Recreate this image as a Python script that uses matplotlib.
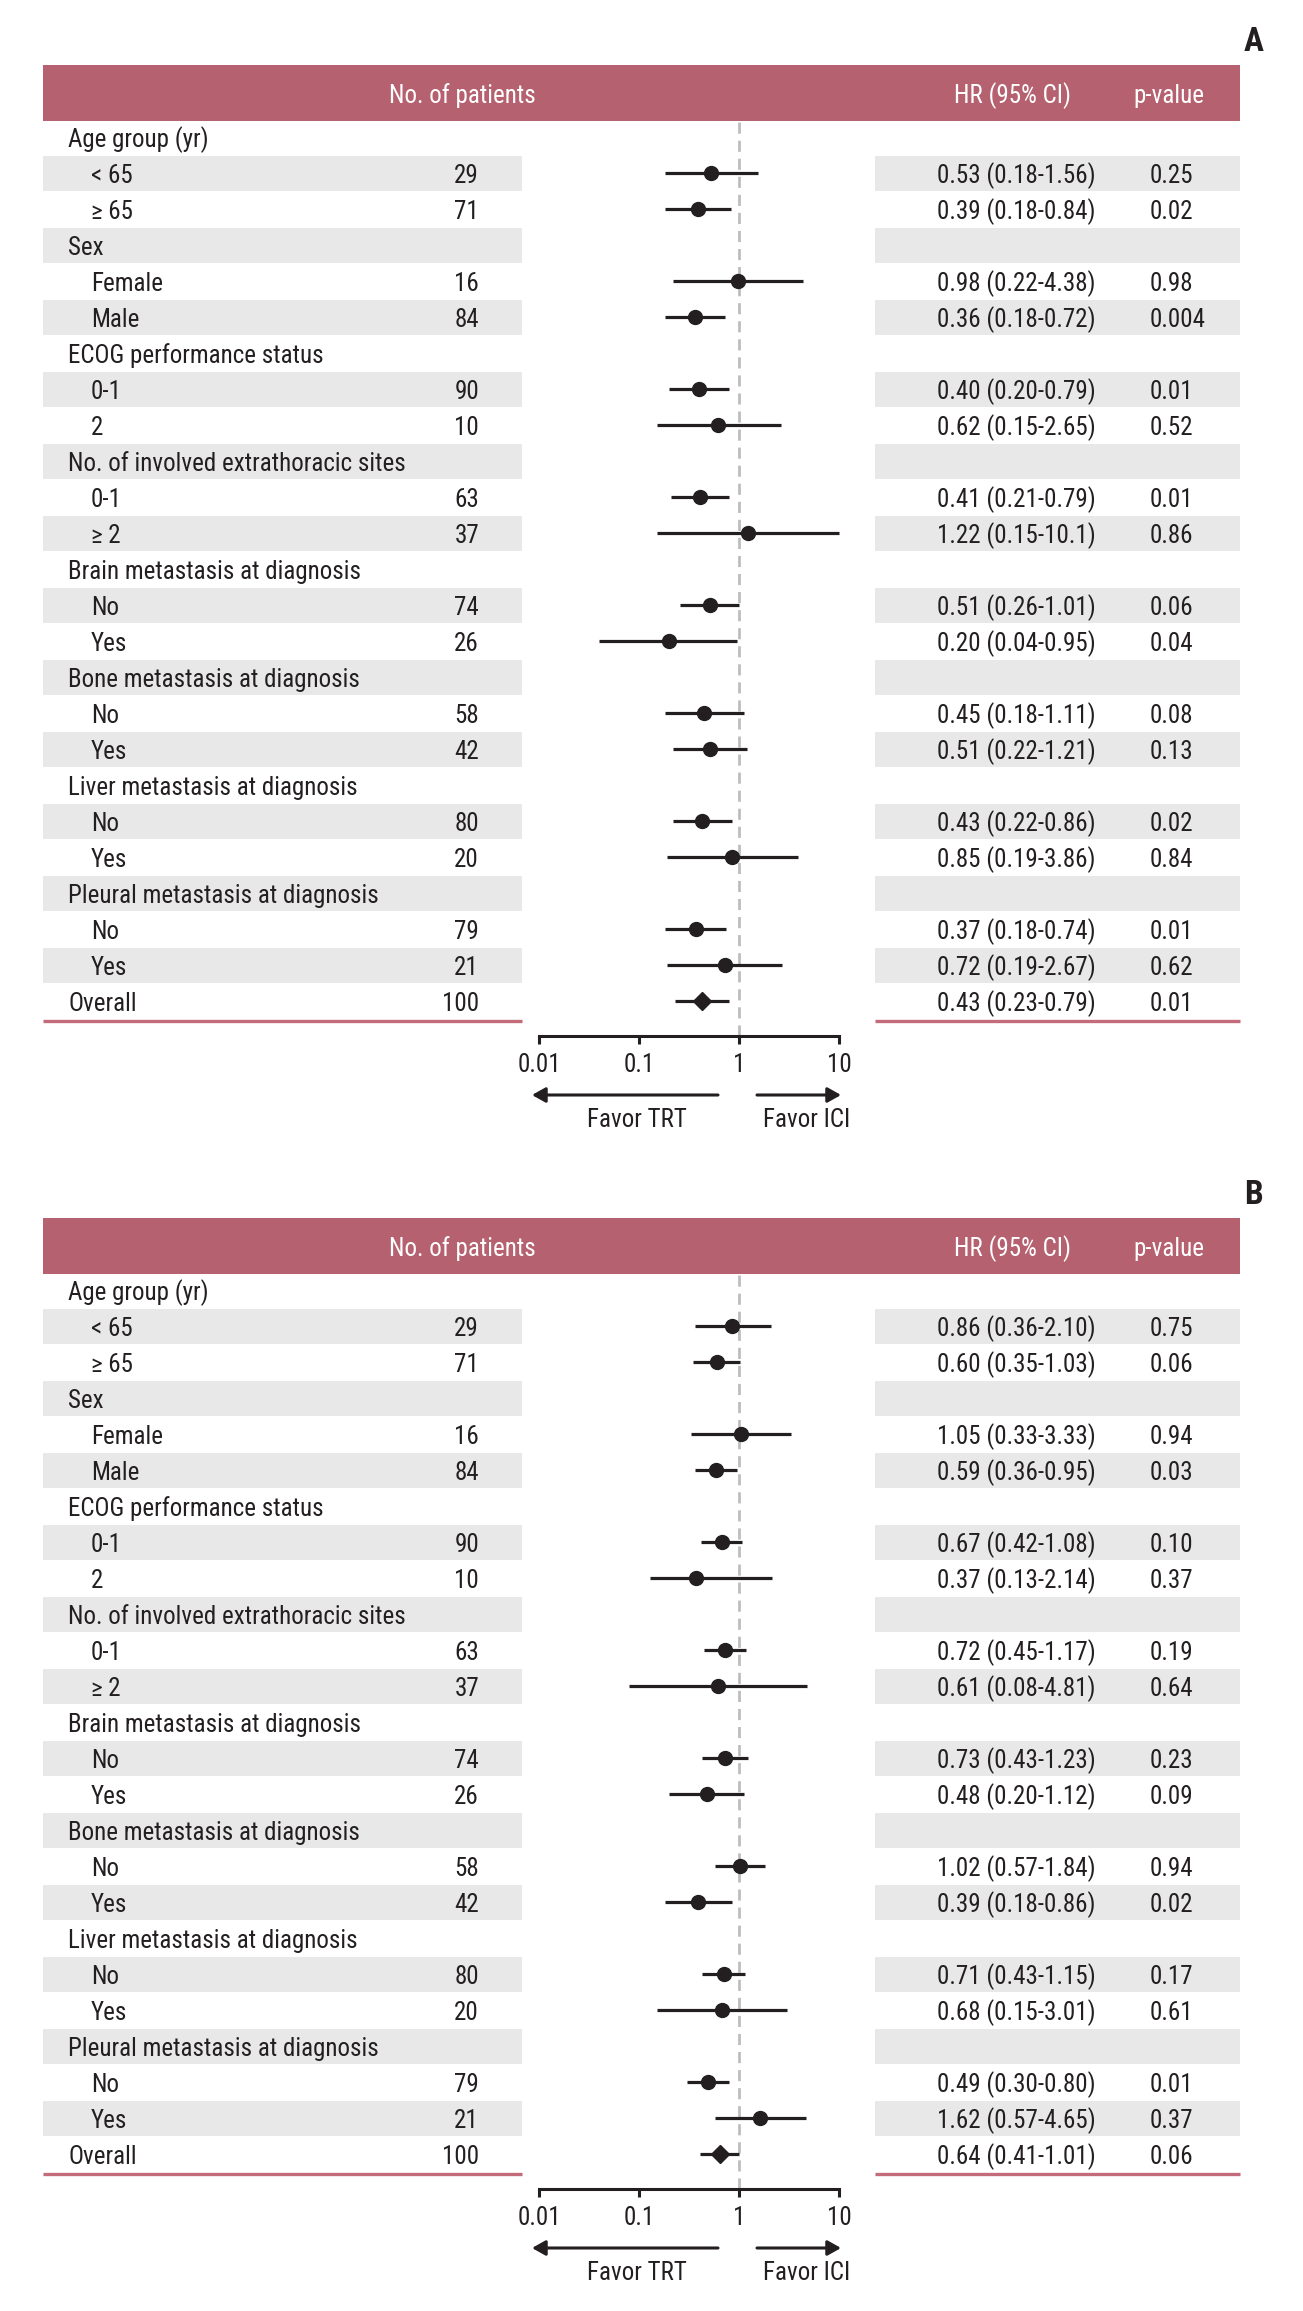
import matplotlib
matplotlib.use('Agg')
import matplotlib.pyplot as plt
from matplotlib.patches import Rectangle

# ---------------- data ----------------
row_labels = ["Age group (yr)", "< 65", "≥ 65", "Sex", "Female", "Male",
              "ECOG performance status", "0-1", "2",
              "No. of involved extrathoracic sites", "0-1", "≥ 2",
              "Brain metastasis at diagnosis", "No", "Yes",
              "Bone metastasis at diagnosis", "No", "Yes",
              "Liver metastasis at diagnosis", "No", "Yes",
              "Pleural metastasis at diagnosis", "No", "Yes", "Overall"]
row_indent = [0, 1, 1, 0, 1, 1, 0, 1, 1, 0, 1, 1, 0, 1, 1, 0, 1, 1, 0, 1, 1, 0, 1, 1, 0]
n_patients = [None, 29, 71, None, 16, 84, None, 90, 10, None, 63, 37, None, 74, 26,
              None, 58, 42, None, 80, 20, None, 79, 21, 100]

hr_a = [None, 0.53, 0.39, None, 0.98, 0.36, None, 0.40, 0.62, None, 0.41, 1.22, None, 0.51, 0.20,
        None, 0.45, 0.51, None, 0.43, 0.85, None, 0.37, 0.72, 0.43]
lo_a = [None, 0.18, 0.18, None, 0.22, 0.18, None, 0.20, 0.15, None, 0.21, 0.15, None, 0.26, 0.04,
        None, 0.18, 0.22, None, 0.22, 0.19, None, 0.18, 0.19, 0.23]
hi_a = [None, 1.56, 0.84, None, 4.38, 0.72, None, 0.79, 2.65, None, 0.79, 10.1, None, 1.01, 0.95,
        None, 1.11, 1.21, None, 0.86, 3.86, None, 0.74, 2.67, 0.79]
p_a = [None, "0.25", "0.02", None, "0.98", "0.004", None, "0.01", "0.52", None, "0.01", "0.86",
       None, "0.06", "0.04", None, "0.08", "0.13", None, "0.02", "0.84", None, "0.01", "0.62", "0.01"]

hr_b = [None, 0.86, 0.60, None, 1.05, 0.59, None, 0.67, 0.37, None, 0.72, 0.61, None, 0.73, 0.48,
        None, 1.02, 0.39, None, 0.71, 0.68, None, 0.49, 1.62, 0.64]
lo_b = [None, 0.36, 0.35, None, 0.33, 0.36, None, 0.42, 0.13, None, 0.45, 0.08, None, 0.43, 0.20,
        None, 0.57, 0.18, None, 0.43, 0.15, None, 0.30, 0.57, 0.41]
hi_b = [None, 2.10, 1.03, None, 3.33, 0.95, None, 1.08, 2.14, None, 1.17, 4.81, None, 1.23, 1.12,
        None, 1.84, 0.86, None, 1.15, 3.01, None, 0.80, 4.65, 1.01]
p_b = [None, "0.75", "0.06", None, "0.94", "0.03", None, "0.10", "0.37", None, "0.19", "0.64",
       None, "0.23", "0.09", None, "0.94", "0.02", None, "0.17", "0.61", None, "0.01", "0.37", "0.06"]

x_ticks = [0.01, 0.1, 1, 10]
x_ticklabels = ["0.01", "0.1", "1", "10"]

# ---------------- style ----------------
W, H, DPI = 1303, 2311, 100
FONT = ['Roboto Condensed', 'DejaVu Sans']
FS = 18
TXT = '#231f20'
HEAD = '#b5616f'
STRIPE = '#e8e8e9'
PINK = '#c46b7b'
DASH = '#bdbdbd'
TY = 3  # small downward nudge of text relative to row centre

plt.rcParams['font.family'] = FONT

fig = plt.figure(figsize=(W / DPI, H / DPI), dpi=DPI)
bg = fig.add_axes([0, 0, 1, 1])
bg.set_xlim(0, W)
bg.set_ylim(H, 0)
bg.axis('off')

ROW0, DY = 137, 36.0


def fmt(v):
    return f"{v:.1f}" if v >= 10 else f"{v:.2f}"


def draw_panel(letter, off, hr, lo, hi, pv):
    # panel letter
    bg.text(1254, off + 42, letter, fontsize=24, fontweight='bold', color=TXT,
            ha='center', va='center')
    # header
    bg.add_patch(Rectangle((43, off + 65), 1197, 56, color=HEAD, lw=0))
    hy = off + 93 + TY
    bg.text(462, hy, "No. of patients", color='white', fontsize=FS, ha='center', va='center')
    bg.text(1012, hy, "HR (95% CI)", color='white', fontsize=FS, ha='center', va='center')
    bg.text(1169, hy, "p-value", color='white', fontsize=FS, ha='center', va='center')
    nrow = len(row_labels)
    for i in range(nrow):
        y = off + ROW0 + DY * i
        if i % 2 == 1:
            bg.add_patch(Rectangle((43, y - 17.5), 479, 35, color=STRIPE, lw=0))
            bg.add_patch(Rectangle((875, y - 17.5), 365, 35, color=STRIPE, lw=0))
        x = 91 if row_indent[i] else 68
        bg.text(x, y + TY, row_labels[i], fontsize=FS, color=TXT, ha='left', va='center')
        if n_patients[i] is not None:
            bg.text(479, y + TY, str(n_patients[i]), fontsize=FS, color=TXT, ha='right', va='center')
        if hr[i] is not None:
            bg.text(937, y + TY, f"{hr[i]:.2f} ({fmt(lo[i])}-{fmt(hi[i])})", fontsize=FS,
                    color=TXT, ha='left', va='center')
            bg.text(1150, y + TY, pv[i], fontsize=FS, color=TXT, ha='left', va='center')
    # bottom pink lines
    ly = off + 1021
    bg.plot([43, 522], [ly, ly], color=PINK, lw=2.4, solid_capstyle='butt')
    bg.plot([875, 1240], [ly, ly], color=PINK, lw=2.4, solid_capstyle='butt')

    # forest axes
    top, bot = off + 121, off + 1036
    ax = fig.add_axes([539 / W, 1 - bot / H, 300 / W, (bot - top) / H])
    ax.patch.set_alpha(0)
    ax.set_xscale('log')
    ax.set_xlim(0.01, 10)
    ax.set_ylim((bot - off - ROW0) / DY, (top - off - ROW0) / DY)
    for s in ['top', 'right', 'left']:
        ax.spines[s].set_visible(False)
    ax.spines['bottom'].set_linewidth(2.2)
    ax.spines['bottom'].set_color(TXT)
    ax.set_yticks([])
    ax.set_xticks(x_ticks)
    ax.set_xticklabels(x_ticklabels)
    ax.xaxis.set_minor_locator(matplotlib.ticker.NullLocator())
    ax.tick_params(axis='x', direction='out', length=6, width=2.2, color=TXT,
                   labelsize=FS, labelcolor=TXT, pad=6)
    ax.axvline(1, color=DASH, lw=2.0, ls=(0, (4, 2.5)), zorder=1)
    for i in range(nrow):
        if hr[i] is None:
            continue
        ax.plot([lo[i], hi[i]], [i, i], color=TXT, lw=2.3, solid_capstyle='butt',
                clip_on=False, zorder=3)
        if row_labels[i] == "Overall":
            ax.plot(hr[i], i, marker='D', ms=9, color=TXT, clip_on=False, zorder=4)
        else:
            ax.plot(hr[i], i, marker='o', ms=10, color=TXT, clip_on=False, zorder=4)

    # direction arrows
    ay = off + 1095
    style = '-|>,head_length=0.8,head_width=0.45'
    bg.annotate('', xy=(532, ay), xytext=(718, ay),
                arrowprops=dict(arrowstyle=style, lw=2.2, color=TXT, shrinkA=0, shrinkB=0))
    bg.annotate('', xy=(841, ay), xytext=(757, ay),
                arrowprops=dict(arrowstyle=style, lw=2.2, color=TXT, shrinkA=0, shrinkB=0))
    bg.text(637, off + 1120, "Favor TRT", fontsize=FS, color=TXT, ha='center', va='center')
    bg.text(807, off + 1120, "Favor ICI", fontsize=FS, color=TXT, ha='center', va='center')


draw_panel("A", 0, hr_a, lo_a, hi_a, p_a)
draw_panel("B", 1153, hr_b, lo_b, hi_b, p_b)

fig.savefig("out.png", dpi=DPI)
